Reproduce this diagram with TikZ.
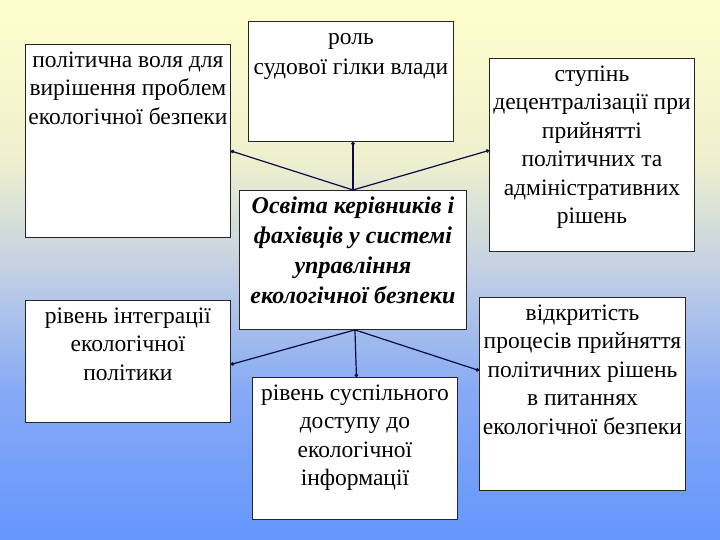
\documentclass[tikz,border=0pt]{standalone}
\usepackage{fontspec}
\setmainfont{Liberation Serif}
\usetikzlibrary{arrows.meta}
\definecolor{lnk}{RGB}{10,10,70}
\definecolor{bgA}{RGB}{255,255,205}
\definecolor{bgB}{RGB}{238,240,205}
\definecolor{bgC}{RGB}{195,208,228}
\definecolor{bgD}{RGB}{135,170,245}
\definecolor{bgE}{RGB}{100,150,252}
\pgfdeclareverticalshading{bgshade}{100bp}{color(0bp)=(bgE); color(25bp)=(bgE); color(38.9bp)=(bgD); color(50bp)=(bgC); color(60.2bp)=(bgB); color(75bp)=(bgA); color(100bp)=(bgA)}
\newcommand{\bxt}[3]{\parbox[t][#2][t]{#1}{\centering\rule{0pt}{22.6pt}#3}}
\tikzset{
  box/.style={draw=black!85, line width=0.9pt, fill=white, inner sep=0pt, anchor=north west},
  plain/.style={font=\fontsize{23.5}{28.5}\selectfont},
  bolde/.style={font=\fontsize{24}{30}\selectfont\bfseries\itshape},
  link/.style={draw=lnk, line width=1.2pt, -{Circle[length=3.5pt]}}
}
\begin{document}
\begin{tikzpicture}[x=1pt,y=-1pt]
\useasboundingbox (0,0) rectangle (720,540);
\shade[shading=bgshade] (0,0) rectangle (720,540);
\node[box,plain] (A) at (25,44) {\bxt{205pt}{193pt}{політична воля для\\вирішення проблем\\екологічної безпеки}};
\node[box,font=\fontsize{23.5}{30}\selectfont] (B) at (248,21) {\bxt{205pt}{120pt}{роль\\судової гілки влади}};
\node[box,plain] (C) at (489,58) {\bxt{205pt}{193pt}{ступінь\\децентралізації при\\прийнятті\\політичних та\\адміністративних\\рішень}};
\node[box,bolde] (D) at (239,190) {\bxt{227pt}{139pt}{Освіта керівників і\\фахівців у системі\\управління\\екологічної безпеки}};
\node[box,plain] (E) at (25,300) {\bxt{205pt}{122pt}{рівень інтеграції\\екологічної\\політики}};
\node[box,plain] (F) at (252,377) {\bxt{205pt}{142pt}{рівень суспільного\\доступу до\\екологічної\\інформації}};
\node[box,plain] (G) at (479,297) {\bxt{206pt}{193pt}{відкритість\\процесів прийняття\\політичних рішень\\в питаннях\\екологічної безпеки}};
\draw[link] (D.north) -- ([yshift=-10pt]A.east);
\draw[link] (D.north) -- ([xshift=2pt]B.south);
\draw[link] (D.north) -- ([yshift=4.5pt]C.west);
\draw[link] ([xshift=2pt]D.south) -- ([yshift=-3pt]E.east);
\draw[link] ([xshift=2pt]D.south) -- ([xshift=1.5pt]F.north);
\draw[link] ([xshift=2pt]D.south) -- ([yshift=23.5pt]G.west);
\end{tikzpicture}
\end{document}
